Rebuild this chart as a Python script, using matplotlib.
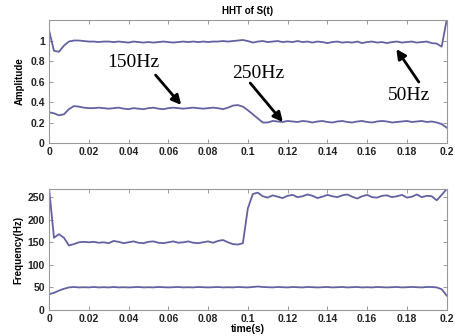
import numpy as np
import matplotlib.pyplot as plt

# amplitude of the 50Hz and 150Hz/250Hz components (0.0025 s steps)
amp_50 = [1.10, 0.90, 0.89, 0.95, 0.99, 1.00, 1.00, 0.995, 0.99, 0.99,
          0.985, 0.99, 0.99, 0.985, 0.99, 0.985, 0.98, 0.99, 0.985, 0.98,
          0.985, 0.98, 0.985, 0.99, 0.985, 0.98, 0.985, 0.99, 0.985, 0.99,
          0.985, 0.99, 0.985, 0.99, 0.99, 0.995, 0.99, 0.995, 1.00, 1.005,
          0.995, 0.98, 0.99, 0.995, 0.985, 0.99, 0.995, 0.985, 0.99, 0.985,
          0.995, 0.985, 0.99, 0.98, 0.99, 0.985, 0.975, 0.985, 0.99, 0.98,
          0.985, 0.98, 0.99, 0.975, 0.985, 0.99, 0.98, 0.985, 0.975, 0.985,
          0.99, 0.98, 0.985, 0.99, 0.98, 0.985, 0.99, 0.975, 0.97, 0.94, 1.20]
amp_hi = [0.30, 0.29, 0.27, 0.28, 0.33, 0.36, 0.355, 0.345, 0.34, 0.34,
          0.345, 0.34, 0.335, 0.34, 0.345, 0.335, 0.33, 0.34, 0.335, 0.33,
          0.34, 0.345, 0.335, 0.33, 0.34, 0.345, 0.34, 0.335, 0.34, 0.345,
          0.34, 0.335, 0.34, 0.345, 0.34, 0.33, 0.345, 0.365, 0.37, 0.355,
          0.32, 0.28, 0.24, 0.20, 0.20, 0.215, 0.21, 0.205, 0.215, 0.21,
          0.205, 0.215, 0.21, 0.20, 0.21, 0.215, 0.205, 0.20, 0.21, 0.215,
          0.205, 0.20, 0.21, 0.215, 0.205, 0.20, 0.21, 0.215, 0.21, 0.20,
          0.205, 0.21, 0.215, 0.205, 0.21, 0.215, 0.205, 0.21, 0.20, 0.185, 0.15]

# instantaneous frequency (Hz)
freq_hi = [270, 160, 168, 160, 143, 146, 150, 151, 150, 151,
           149, 150, 148, 153, 151, 148, 150, 152, 149, 148,
           151, 152, 149, 148, 150, 152, 149, 150, 152, 149,
           148, 150, 152, 149, 153, 155, 150, 146, 145, 148,
           225, 257, 260, 252, 249, 254, 251, 248, 253, 255,
           250, 252, 256, 253, 248, 251, 255, 252, 250, 254,
           256, 251, 247, 252, 255, 250, 249, 253, 254, 250,
           252, 255, 249, 251, 256, 250, 253, 252, 243, 255, 268]
freq_50 = [35, 38, 43, 47, 50, 51, 50, 50.5, 50, 51,
           50, 50.5, 50, 51, 50, 50.5, 50, 50.5, 51, 50,
           50.5, 50, 51, 50.5, 50, 50.5, 51, 50, 50.5, 50,
           51, 50.5, 50, 50.5, 51, 50, 50.5, 50, 51, 50.5,
           50, 51, 52, 51, 50.5, 50, 51, 50.5, 50, 51,
           50.5, 50, 51, 50.5, 50, 50.5, 51, 50, 50.5, 51,
           50, 50.5, 51, 50, 50.5, 50, 51, 50.5, 50, 50.5,
           51, 50, 50.5, 51, 50.5, 50, 51, 51, 50, 46, 32]

x_ticks = [0, 0.02, 0.04, 0.06, 0.08, 0.1, 0.12, 0.14, 0.16, 0.18, 0.2]
x_labels = ['0', '0.02', '0.04', '0.06', '0.08', '0.1', '0.12', '0.14', '0.16', '0.18', '0.2']
amp_ticks = [0, 0.2, 0.4, 0.6, 0.8, 1]
amp_labels = ['0', '0.2', '0.4', '0.6', '0.8', '1']
freq_ticks = [0, 50, 100, 150, 200, 250]

line_color = '#6262a2'
plt.rcParams['font.family'] = ['Liberation Sans', 'DejaVu Sans']

fig = plt.figure(figsize=(4.56, 3.36), dpi=100)
ax1 = fig.add_axes([0.1075, 0.5744, 0.872, 0.366])
ax2 = fig.add_axes([0.1075, 0.0774, 0.872, 0.360])


def t_of(vals):
    return np.linspace(0, 0.2, len(vals))


ax1.plot(t_of(amp_50), amp_50, color=line_color, lw=1.3)
ax1.plot(t_of(amp_hi), amp_hi, color=line_color, lw=1.3)
ax2.plot(t_of(freq_hi), freq_hi, color=line_color, lw=1.3)
ax2.plot(t_of(freq_50), freq_50, color=line_color, lw=1.3)

ax1.set_ylim(0, 1.2)
ax2.set_ylim(0, 268)
ax1.set_yticks(amp_ticks)
ax1.set_yticklabels(amp_labels)
ax2.set_yticks(freq_ticks)

for ax in (ax1, ax2):
    ax.set_xlim(0, 0.2)
    ax.set_xticks(x_ticks)
    ax.set_xticklabels(x_labels)
    ax.tick_params(direction='in', top=True, right=True, length=3, width=0.6,
                   color='#888888', labelsize=7.5, pad=3)
    for lab in ax.get_xticklabels() + ax.get_yticklabels():
        lab.set_fontweight('bold')
        lab.set_color('#222222')
    for sp in ax.spines.values():
        sp.set_color('#999999')
        sp.set_linewidth(0.8)

ax1.set_title('HHT of S(t)', fontsize=7, fontweight='bold', pad=4)
ax1.set_ylabel('Amplitude', fontsize=7, fontweight='bold', labelpad=4)
ax2.set_ylabel('Frequency(Hz)', fontsize=7, fontweight='bold', labelpad=3)
ax2.set_xlabel('time(s)', fontsize=7.5, fontweight='bold', labelpad=0)

arrow = dict(arrowstyle='-|>', color='black', lw=2, mutation_scale=14,
             shrinkA=0, shrinkB=0)
serif = ['Liberation Serif', 'DejaVu Serif']
ax1.text(0.0424, 0.79, '150Hz', family=serif, fontsize=14, ha='center', va='center')
ax1.annotate('', xy=(0.0665, 0.371), xytext=(0.0536, 0.663), arrowprops=arrow)
ax1.text(0.1052, 0.683, '250Hz', family=serif, fontsize=14, ha='center', va='center')
ax1.annotate('', xy=(0.1176, 0.205), xytext=(0.1012, 0.585), arrowprops=arrow)
ax1.text(0.181, 0.468, '50Hz', family=serif, fontsize=14, ha='center', va='center')
ax1.annotate('', xy=(0.1747, 0.917), xytext=(0.186, 0.595), arrowprops=arrow)

fig.savefig('out.png', dpi=100)
